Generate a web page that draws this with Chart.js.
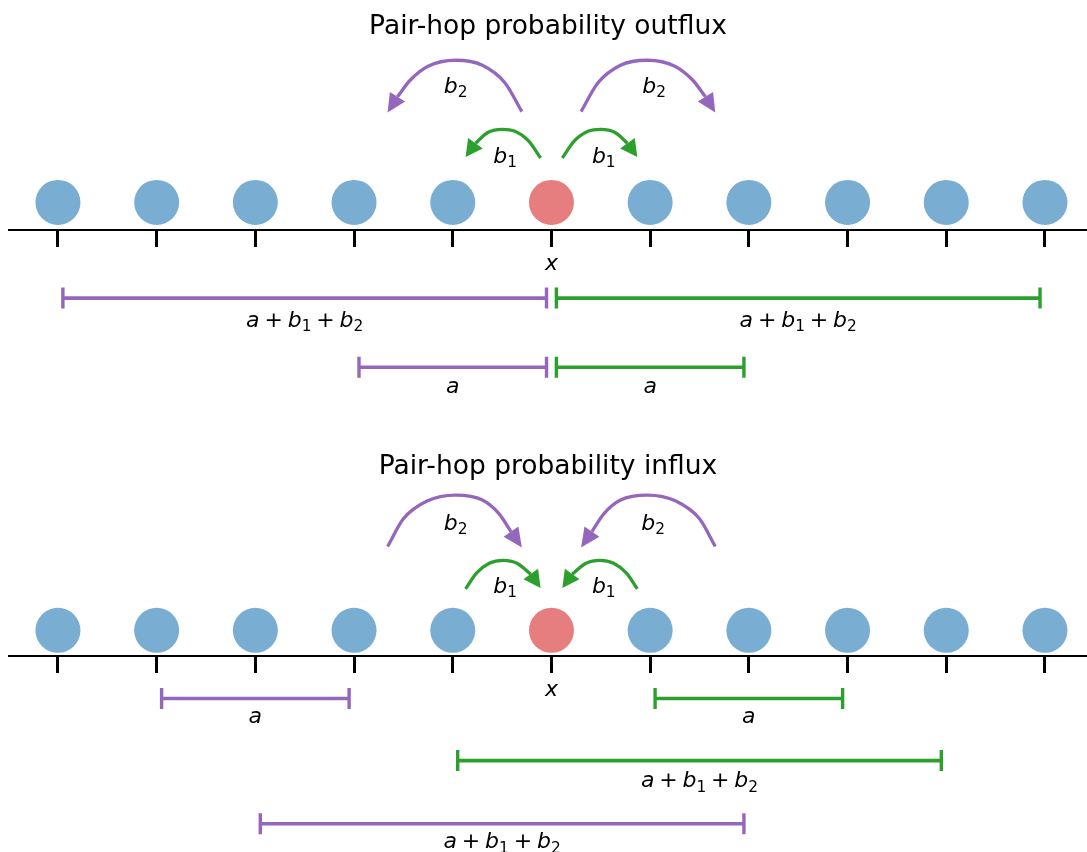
<!DOCTYPE html>
<html>
<head>
<meta charset="utf-8">
<script src="https://cdn.jsdelivr.net/npm/chart.js@4.4.1/dist/chart.umd.min.js"></script>
<style>
  body { margin: 0; background: #fff; }
  canvas { display: block; }
</style>
</head>
<body>
<canvas id="outflux" width="1087" height="426"></canvas>
<canvas id="influx" width="1087" height="426"></canvas>
<script>
// lattice
const siteX = [-5, -4, -3, -2, -1, 0, 1, 2, 3, 4, 5];
const centerX = 0;

// outflux panel: arcs are [x, y], last pair is the arrow tip
const outSiteY = 0.28;
const outB2Left = [[-0.30, 1.20], [-0.47, 1.49], [-0.70, 1.67], [-0.97, 1.72], [-1.25, 1.66], [-1.43, 1.52], [-1.56, 1.35], [-1.66, 1.19]];
const outB2Right = [[0.30, 1.20], [0.47, 1.49], [0.70, 1.67], [0.97, 1.72], [1.25, 1.66], [1.43, 1.52], [1.56, 1.35], [1.66, 1.19]];
const outB1Left = [[-0.11, 0.73], [-0.23, 0.90], [-0.37, 1.00], [-0.50, 1.02], [-0.64, 0.99], [-0.77, 0.88], [-0.87, 0.74]];
const outB1Right = [[0.11, 0.73], [0.23, 0.90], [0.37, 1.00], [0.50, 1.02], [0.64, 0.99], [0.77, 0.88], [0.87, 0.74]];
// spans: [from, to, y]
const outPurpleSpans = [[-4.95, -0.05, -0.69], [-1.95, -0.05, -1.39]];
const outGreenSpans = [[0.05, 4.95, -0.69], [0.05, 1.95, -1.39]];
// labels: [x, baseline y, text]
const outLabels = [
  [-0.97, 1.39, 'b_2'], [1.04, 1.39, 'b_2'], [-0.47, 0.68, 'b_1'], [0.53, 0.68, 'b_1'],
  [-2.5, -0.98, 'a+b_1+b_2'], [2.5, -0.98, 'a+b_1+b_2'], [-1.0, -1.65, 'a'], [1.0, -1.65, 'a']
];

// influx panel
const inSiteY = 0.26;
const inB2Left = [[-1.66, 1.11], [-1.50, 1.39], [-1.26, 1.57], [-0.97, 1.63], [-0.70, 1.58], [-0.53, 1.44], [-0.41, 1.26], [-0.30, 1.10]];
const inB2Right = [[1.66, 1.11], [1.50, 1.39], [1.26, 1.57], [0.97, 1.63], [0.70, 1.58], [0.53, 1.44], [0.41, 1.26], [0.30, 1.10]];
const inB1Left = [[-0.87, 0.68], [-0.76, 0.84], [-0.63, 0.94], [-0.49, 0.97], [-0.35, 0.94], [-0.21, 0.83], [-0.11, 0.69]];
const inB1Right = [[0.87, 0.68], [0.76, 0.84], [0.63, 0.94], [0.49, 0.97], [0.35, 0.94], [0.21, 0.83], [0.11, 0.69]];
const inPurpleSpans = [[-3.95, -2.05, -0.43], [-2.95, 1.95, -1.70]];
const inGreenSpans = [[1.05, 2.95, -0.43], [-0.95, 3.95, -1.06]];
const inLabels = [
  [-0.97, 1.28, 'b_2'], [1.03, 1.28, 'b_2'], [-0.47, 0.64, 'b_1'], [0.53, 0.64, 'b_1'],
  [-3.0, -0.68, 'a'], [2.0, -0.68, 'a'], [1.5, -1.33, 'a+b_1+b_2'], [-0.5, -1.95, 'a+b_1+b_2']
];

const PURPLE = '#9467bd';
const GREEN = '#2ca02c';
const BLUE = 'rgba(31, 119, 180, 0.6)';
const RED = 'rgba(214, 39, 40, 0.6)';

Chart.defaults.font.family = '"DejaVu Sans", sans-serif';

// mathtext-ish label: italic letters, upright '+', lowered subscripts
function drawMath(ctx, str, cx, by, size) {
  const parts = [];
  for (let i = 0; i < str.length; i++) {
    const c = str[i];
    if (c === '_') parts.push({ t: str[++i], sub: true });
    else if (c === '+') parts.push({ t: '+', op: true });
    else parts.push({ t: c, it: true });
  }
  const fontOf = p => (p.it ? 'italic ' : '') + (p.sub ? size * 0.7 : size) + 'px "DejaVu Sans"';
  const gap = size * 0.22;
  let total = 0;
  parts.forEach(p => {
    ctx.font = fontOf(p);
    p.w = ctx.measureText(p.t).width;
    total += p.w + (p.op ? 2 * gap : 0);
  });
  let px = cx - total / 2;
  ctx.save();
  ctx.fillStyle = '#000';
  ctx.textAlign = 'left';
  ctx.textBaseline = 'alphabetic';
  parts.forEach(p => {
    ctx.font = fontOf(p);
    if (p.op) px += gap;
    ctx.fillText(p.t, px, by + (p.sub ? size * 0.2 : 0));
    px += p.w + (p.op ? gap : 0);
  });
  ctx.restore();
}

const arrowHeads = {
  id: 'arrowHeads',
  afterDatasetsDraw(chart) {
    const { ctx, scales: { x, y } } = chart;
    chart.data.datasets.forEach(ds => {
      if (!ds.head) return;
      const last = ds.data[ds.data.length - 1];
      const bx = x.getPixelForValue(last.x), by = y.getPixelForValue(last.y);
      const tx = x.getPixelForValue(ds.head.x), ty = y.getPixelForValue(ds.head.y);
      const len = Math.hypot(tx - bx, ty - by);
      const nx = -(ty - by) / len * 9, ny = (tx - bx) / len * 9;
      ctx.save();
      ctx.fillStyle = ds.borderColor;
      ctx.beginPath();
      ctx.moveTo(tx, ty);
      ctx.lineTo(bx + nx, by + ny);
      ctx.lineTo(bx - nx, by - ny);
      ctx.closePath();
      ctx.fill();
      ctx.restore();
    });
  }
};

const labelPlugin = items => ({
  id: 'mathLabels',
  afterDraw(chart) {
    const { ctx, scales: { x, y } } = chart;
    items.forEach(([vx, vy, str]) => drawMath(ctx, str, x.getPixelForValue(vx), y.getPixelForValue(vy), 22));
  }
});

const arc = (pts, color) => ({
  data: pts.slice(0, -1).map(([x, y]) => ({ x, y })),
  head: { x: pts[pts.length - 1][0], y: pts[pts.length - 1][1] },
  showLine: true,
  cubicInterpolationMode: 'monotone',
  borderColor: color,
  borderWidth: 3.3,
  borderCapStyle: 'butt',
  pointRadius: 0
});

const span = ([from, to, y], color) => ({
  data: [{ x: from, y }, { x: to, y }],
  showLine: true,
  borderColor: color,
  borderWidth: 3.6,
  pointStyle: 'line',
  pointRotation: 90,
  pointRadius: 10.5,
  pointBorderWidth: 3.4,
  pointBorderColor: color
});

function makePanel(id, p) {
  const datasets = [
    { data: siteX.filter(x => x !== centerX).map(x => ({ x, y: p.siteY })), pointRadius: 22.5, backgroundColor: BLUE, borderWidth: 0 },
    { data: [{ x: centerX, y: p.siteY }], pointRadius: 22.5, backgroundColor: RED, borderWidth: 0 },
    arc(p.b2Left, PURPLE), arc(p.b2Right, PURPLE), arc(p.b1Left, GREEN), arc(p.b1Right, GREEN),
    ...p.purple.map(s => span(s, PURPLE)),
    ...p.green.map(s => span(s, GREEN))
  ];

  new Chart(document.getElementById(id), {
    type: 'scatter',
    data: { datasets },
    options: {
      responsive: false,
      animation: false,
      events: [],
      layout: { autoPadding: false, padding: { left: 9 } },
      plugins: {
        legend: { display: false },
        tooltip: { enabled: false },
        title: {
          display: true,
          text: p.title,
          color: '#000',
          font: { size: 26.5, weight: 'normal' },
          padding: p.titlePad
        }
      },
      scales: {
        x: {
          type: 'linear',
          min: -5.496,
          max: 5.426,
          position: { y: 0 },
          afterBuildTicks: s => { s.ticks = siteX.map(v => ({ value: v })); },
          ticks: {
            autoSkip: false,
            maxRotation: 0,
            padding: 5,
            color: '#000',
            font: { size: 22, style: 'italic' },
            callback: v => (v === centerX ? 'x' : '')
          },
          grid: { drawOnChartArea: false, drawTicks: true, tickLength: 16, color: '#000', lineWidth: 3 },
          border: { display: true, color: '#000', width: 2 }
        },
        y: { display: false, min: p.yMin, max: p.yMax }
      }
    },
    plugins: [arrowHeads, labelPlugin(p.labels)]
  });
}

makePanel('outflux', {
  title: 'Pair-hop probability outflux',
  titlePad: { top: 11, bottom: 8 },
  yMin: -1.986, yMax: 1.816,
  siteY: outSiteY,
  b2Left: outB2Left, b2Right: outB2Right, b1Left: outB1Left, b1Right: outB1Right,
  purple: outPurpleSpans, green: outGreenSpans,
  labels: outLabels
});

makePanel('influx', {
  title: 'Pair-hop probability influx',
  titlePad: { top: 25, bottom: 8 },
  yMin: -1.986, yMax: 1.674,
  siteY: inSiteY,
  b2Left: inB2Left, b2Right: inB2Right, b1Left: inB1Left, b1Right: inB1Right,
  purple: inPurpleSpans, green: inGreenSpans,
  labels: inLabels
});
</script>
</body>
</html>
